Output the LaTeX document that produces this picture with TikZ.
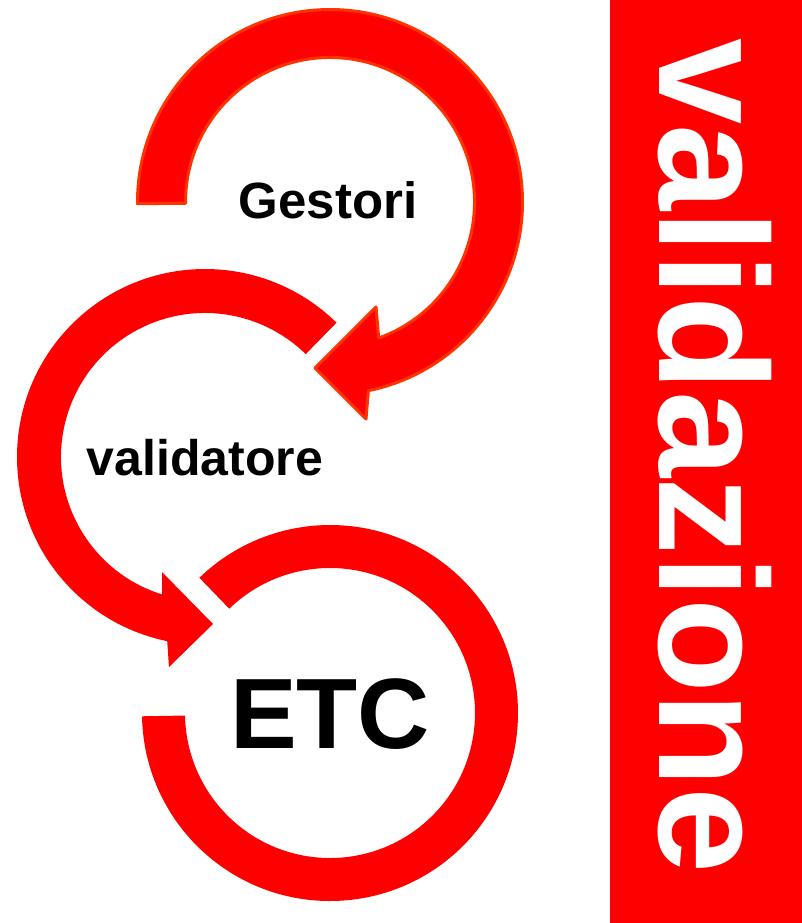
\documentclass[tikz,border=0pt]{standalone}
\usepackage{fontspec}
\setmainfont{Liberation Sans}
\usetikzlibrary{calc}
\definecolor{bandred}{RGB}{255,0,0}
\definecolor{rimorange}{RGB}{255,51,0}
\tikzset{
  ringfill/.style={fill=bandred, draw=none},
  ringrim/.style={fill=bandred, draw=rimorange, line width=3pt, line join=round},
  label/.style={font=\bfseries, text=black, anchor=base, inner sep=0pt},
}
\begin{document}
\begin{tikzpicture}[x=1pt,y=-1pt]
\useasboundingbox (0,0) rectangle (802,923);

% vertical title band
\fill[bandred] (610,0) rectangle (802,923);
\node[label, text=white, rotate=-90, font=\fontsize{155}{155}\selectfont\bfseries]
  (title) at (659,456) {validazione};

% centres of the three rings
\coordinate (c1) at (330,202);
\coordinate (c2) at (205,457);
\coordinate (c3) at (330,713);

% upper circular arrow, outlined
\path[ringrim] ($(c1)+(179.5:192.5)$)
  arc[start angle=179.5, end angle=438.5, radius=192.5]
  -- (366,419) -- (315,368) -- (376,307)
  -- ($(c1)+(430.3:144.5)$)
  arc[start angle=430.3, end angle=179.5, radius=144.5] -- cycle;

% middle circular arrow
\path[ringfill] ($(c2)+(-45.6:188)$)
  arc[start angle=-45.6, end angle=-258.4, radius=188]
  -- (169,667) -- (213,624) -- (162,572)
  -- ($(c2)+(-252.7:144)$)
  arc[start angle=-252.7, end angle=-45.6, radius=144] -- cycle;

% lower open ring
\path[ringfill] ($(c3)+(179:188)$)
  arc[start angle=179, end angle=-134, radius=188]
  -- ($(c3)+(-134:145)$)
  arc[start angle=-134, end angle=179, radius=145] -- cycle;

% labels
\node[label, font=\fontsize{51}{51}\selectfont\bfseries] (gestori) at (328,218) {Gestori};
\node[label, font=\fontsize{50}{50}\selectfont\bfseries] (validatore) at (205,475) {validatore};
\node[label, font=\fontsize{100}{100}\selectfont\bfseries] (etc) at (330,748) {ETC};
\end{tikzpicture}
\end{document}
